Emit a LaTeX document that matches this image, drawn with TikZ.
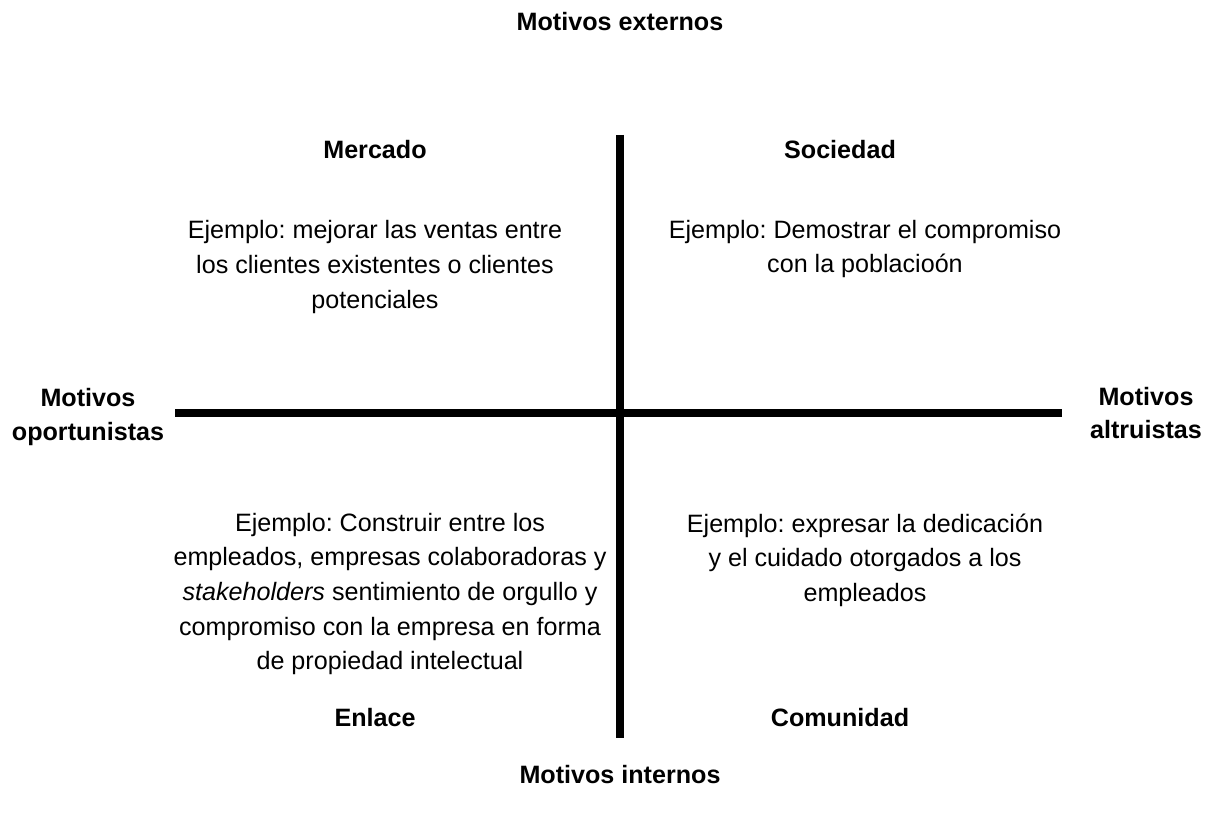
\documentclass[tikz,border=0pt]{standalone}
\usepackage{fontspec}
\setmainfont{Liberation Sans}
\tikzset{
  axisline/.style = {line width = 4pt},
  heading/.style = {font = \bfseries\fontsize{14.3}{19}\selectfont, align = center},
  example/.style = {font = \frenchspacing\fontsize{14.3}{19.7}\selectfont, align = center}
}
\begin{document}
\begin{tikzpicture}[x = .02cm, y = -.02cm]
  \useasboundingbox (0,0) rectangle (1211,814);
  % axes
  \coordinate (top) at (620,135);
  \coordinate (bottom) at (620,738);
  \coordinate (left) at (175,413);
  \coordinate (right) at (1062,413);
  \draw [axisline] (top) -- (bottom);
  \draw [axisline] (left) -- (right);
  % axis labels
  \node [heading] (ext) at (620,22) {Motivos externos};
  \node [heading] (int) at (620,775) {Motivos internos};
  \node [heading] (opp) at (88,417) {Motivos\\oportunistas};
  \node [heading] (alt) at (1146,413) {Motivos\\altruistas};
  % quadrant titles
  \node [heading] (mercado) at (375,150) {Mercado};
  \node [heading] (sociedad) at (840,150) {Sociedad};
  \node [heading] (enlace) at (375,718) {Enlace};
  \node [heading] (comunidad) at (840,718) {Comunidad};
  % quadrant texts
  \node [example] (mercadotxt) at (375,267)
    {Ejemplo: mejorar las ventas entre\\los clientes existentes o clientes\\potenciales};
  \node [example] (sociedadtxt) at (865,249)
    {Ejemplo: Demostrar el compromiso\\con la poblacioón};
  \node [example] (enlacetxt) at (390,594)
    {Ejemplo: Construir entre los\\empleados, empresas colaboradoras y\\\textit{stakeholders} sentimiento de orgullo y\\compromiso con la empresa en forma\\de propiedad intelectual};
  \node [example] (comunidadtxt) at (865,560)
    {Ejemplo: expresar la dedicación\\y el cuidado otorgados a los\\empleados};
\end{tikzpicture}
\end{document}
